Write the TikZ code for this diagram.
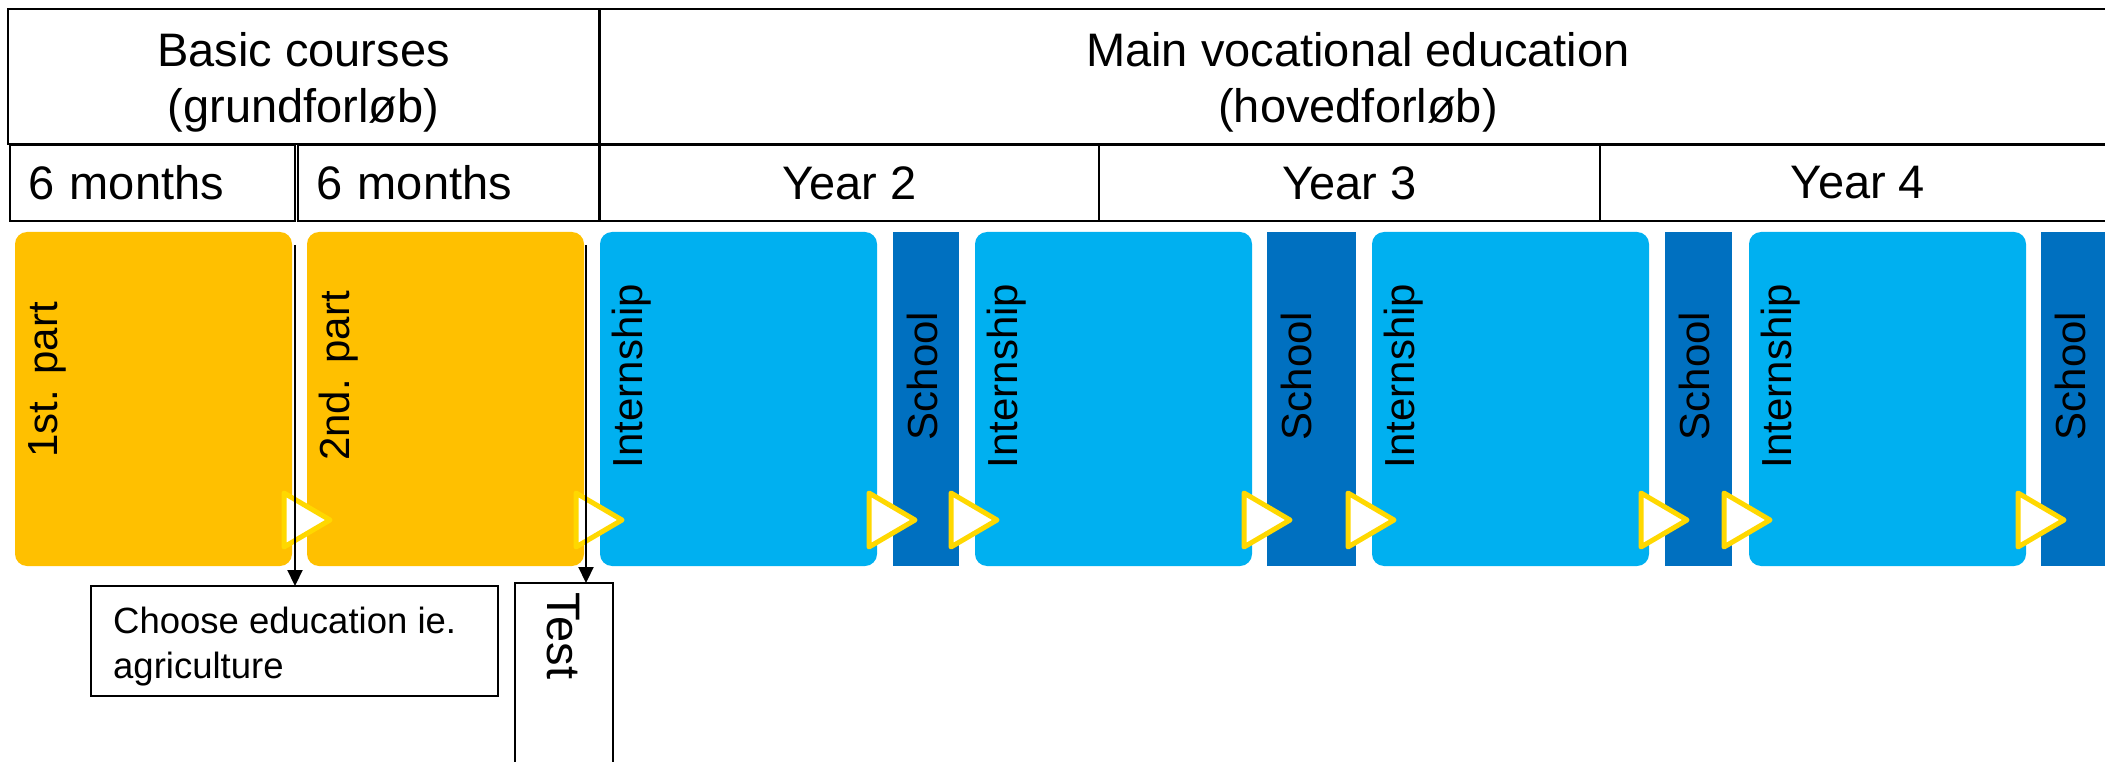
\documentclass[tikz,border=0pt]{standalone}
\usepackage{fontspec}
\setmainfont{Liberation Sans}
\usetikzlibrary{arrows.meta,calc}
\definecolor{cGold}{HTML}{FFC000}
\definecolor{cLight}{HTML}{00B0F0}
\definecolor{cDark}{HTML}{0070C0}
\definecolor{cTri}{HTML}{FFD800}
\newcommand{\fHdr}{\fontsize{47}{56}\selectfont}
\newcommand{\fLab}{\fontsize{42}{50}\selectfont}
\newcommand{\fNote}{\fontsize{36.5}{45}\selectfont}
\begin{document}
\begin{tikzpicture}[x=1pt,y=-1pt,
  hbox/.style={draw, line width=2pt, inner sep=0pt, outer sep=0pt, anchor=north west, font=\fHdr},
  htxt/.style={inner sep=0pt, align=center, font=\fHdr},
  pbox/.style={inner sep=0pt, outer sep=0pt, anchor=north west, minimum height=334pt, minimum width=277pt},
  ybox/.style={pbox, fill=cGold, rounded corners=12pt},
  ibox/.style={pbox, fill=cLight, rounded corners=12pt},
  sbox/.style={pbox, fill=cDark},
  vlab/.style={rotate=90, anchor=base, font=\fLab, inner sep=0pt},
  nbox/.style={draw, line width=1.6pt, inner sep=0pt, outer sep=0pt, anchor=north west},
  tri/.style={draw=cTri, fill=white, line width=5pt, line join=round},
  arr/.style={draw, line width=2.2pt, -{Triangle[width=15pt,length=16pt]}}]
\useasboundingbox (0,0) rectangle (2105,762);
\clip (0,0) rectangle (2105,762);
% header row 1
\node[hbox, minimum width=591pt, minimum height=135pt] (basic) at (8,9) {};
\node[htxt, anchor=north] (basicT) at (303.5,32) {Basic courses\\(grundforløb)};
\node[hbox, minimum width=1516pt, minimum height=135pt] (main) at (600,9) {};
\node[htxt, anchor=north] (mainT) at (1358,32) {Main vocational education\\(hovedforløb)};
% header row 2
\node[hbox, minimum width=285pt, minimum height=76pt, text width=249pt, inner xsep=18pt, align=left] (m1) at (10,145) {6 months};
\node[hbox, minimum width=301pt, minimum height=76pt, text width=265pt, inner xsep=18pt, align=left] (m2) at (298,145) {6 months};
\node[hbox, minimum width=499pt, minimum height=76pt] (yr2) at (600,145) {Year 2};
\node[hbox, minimum width=501pt, minimum height=76pt] (yr3) at (1099,145) {Year 3};
\node[hbox, minimum width=516pt, minimum height=76pt] (yr4) at (1600,145) {Year 4};
% coloured blocks
\node[ybox] (p1) at (15,232) {};
\node[ybox] (p2) at (307,232) {};
\node[ibox] (i1) at (600,232) {};
\node[sbox, minimum width=66pt] (s1) at (893,232) {};
\node[ibox] (i2) at (975,232) {};
\node[sbox, minimum width=89pt] (s2) at (1267,232) {};
\node[ibox] (i3) at (1372,232) {};
\node[sbox, minimum width=67pt] (s3) at (1665,232) {};
\node[ibox] (i4) at (1749,232) {};
\node[sbox, minimum width=70pt] (s4) at (2041,232) {};
% labels
\node[vlab] (p1L) at ($(p1.north west)+(42,148)$) {1st. part};
\node[vlab] (p2L) at ($(p2.north west)+(42,144)$) {2nd. part};
\foreach \b in {i1,i2,i3,i4}{
  \node[vlab] (\b L) at ($(\b.north west)+(42,144)$) {Internship};
}
\foreach \b in {s1,s2,s3,s4}{
  \node[vlab] (\b L) at ($(\b.north west)+(44,144)$) {School};
}
% triangles
\foreach \b in {p1,p2,i1,s1,i2,s2,i3,s3,i4}{
  \draw[tri] ($(\b.north east)+(-8,261)$) -- ++(0,54) -- ++(46,-27) -- cycle;
}
% notes
\node[nbox, minimum width=407pt, minimum height=110pt] (choose) at (91,586) {};
\node[anchor=north west, align=left, font=\fNote, inner sep=0pt] (chooseT) at ($(choose.north west)+(22,21)$) {Choose education ie.\\agriculture};
\node[nbox, minimum width=98pt, minimum height=220pt] (test) at (515,583) {};
\node[rotate=-90, anchor=base, font=\fHdr, inner sep=0pt] (testT) at ($(test.north west)+(32,53)$) {Test};
% arrows
\coordinate (a1s) at ($(p1.north east)+(3,13)$);
\coordinate (a2s) at ($(p2.north east)+(2,13)$);
\draw[arr] (a1s) -- (a1s |- choose.north);
\draw[arr] (a2s) -- (a2s |- test.north);
\end{tikzpicture}
\end{document}
